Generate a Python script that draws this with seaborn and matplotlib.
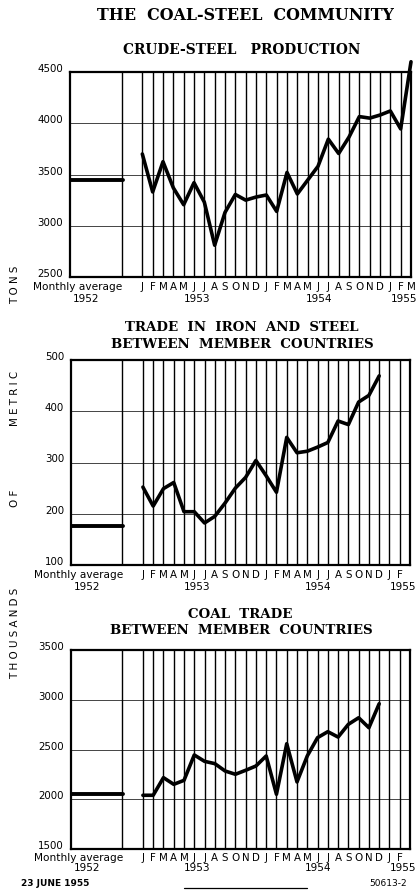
import numpy as np
import pandas as pd
import matplotlib
matplotlib.use("Agg")
import matplotlib.pyplot as plt
from matplotlib.lines import Line2D
import seaborn as sns

# ---------------- data ----------------
months_steel = ["J", "F", "M", "A", "M", "J", "J", "A", "S", "O", "N", "D",
                "J", "F", "M", "A", "M", "J", "J", "A", "S", "O", "N", "D",
                "J", "F", "M"]
months_trade = months_steel[:26]

years_labels = ["1953", "1954", "1955"]
years_pos = [5.3, 17.1, 25.3]

steel_values = [3700, 3330, 3625, 3370, 3205, 3420, 3230, 2810, 3130, 3305,
                3250, 3280, 3300, 3140, 3520, 3310, 3445, 3580, 3845, 3705,
                3865, 4065, 4050, 4080, 4120, 3945, 4600]
steel_avg_1952 = 3450

iron_values = [252, 215, 249, 261, 204, 204, 182, 195, 221, 250, 271, 304,
               274, 242, 349, 319, 322, 330, 339, 381, 374, 418, 431, 469]
iron_avg_1952 = 176

coal_values = [2040, 2040, 2217, 2150, 2190, 2445, 2381, 2358, 2284, 2251,
               2291, 2334, 2435, 2050, 2558, 2174, 2435, 2619, 2679, 2625,
               2753, 2819, 2719, 2960]
coal_avg_1952 = 2057

steel_ticks = [2500, 3000, 3500, 4000, 4500]
iron_ticks = [100, 200, 300, 400, 500]
coal_ticks = [1500, 2000, 2500, 3000, 3500]

# ---------------- style ----------------
sns.set_style("white")
plt.rcParams["font.family"] = ["DejaVu Sans"]
plt.rcParams["text.color"] = "black"
plt.rcParams["xtick.color"] = "black"
plt.rcParams["ytick.color"] = "black"
plt.rcParams["axes.labelcolor"] = "black"

W, H = 416, 890
fig = plt.figure(figsize=(W / 100, H / 100), dpi=100)


def axes_px(left, right, top, bottom):
    return fig.add_axes([left / W, 1 - bottom / H, (right - left) / W, (bottom - top) / H])


def draw_panel(ax, labels, values, avg, ticks, year_dy, month_dy):
    ax.set_xlim(-7, 26)
    ax.set_ylim(ticks[0], ticks[-1])
    ax.set_yticks(ticks)
    ax.set_yticklabels([str(t) for t in ticks], fontsize=7.4)
    for lab in ax.get_yticklabels():
        lab.set_verticalalignment("baseline")
    ax.set_xticks(range(len(labels)))
    ax.set_xticklabels(labels, fontsize=7.4)
    for lab in ax.get_xticklabels():
        lab.set_verticalalignment("center")
    ax.tick_params(axis="x", length=0, pad=month_dy * 0.72)
    ax.tick_params(axis="y", length=0, pad=5)
    ax.grid(False)
    ax.yaxis.grid(True, color="black", lw=0.6, alpha=0.85)
    ax.xaxis.grid(True, color="black", lw=1.0)
    ax.axvline(-2, color="black", lw=1.0)
    for s in ax.spines.values():
        s.set_color("black")
        s.set_linewidth(1.6)
    df = pd.DataFrame({"month": np.arange(len(values)), "value": values})
    sns.lineplot(data=df, x="month", y="value", ax=ax, color="black", lw=2.6,
                 clip_on=False)
    avg_df = pd.DataFrame({"x": [-7, -1.9], "y": [avg, avg]})
    sns.lineplot(data=avg_df, x="x", y="y", ax=ax, color="black", lw=2.8)
    ax.set_xlabel("")
    ax.set_ylabel("")
    # lower labels
    ax.annotate("Monthly average", xy=(-6.3, 0), xycoords=("data", "axes fraction"),
                xytext=(0, -month_dy * 0.72), textcoords="offset points",
                ha="center", va="center", fontsize=7.6, annotation_clip=False)
    ax.annotate("1952", xy=(-5.45, 0), xycoords=("data", "axes fraction"),
                xytext=(0, -year_dy * 0.72), textcoords="offset points",
                ha="center", va="center", fontsize=7.6, annotation_clip=False)
    for yl, xp in zip(years_labels, years_pos):
        ax.annotate(yl, xy=(xp, 0), xycoords=("data", "axes fraction"),
                    xytext=(0, -year_dy * 0.72), textcoords="offset points",
                    ha="center", va="center", fontsize=7.6, annotation_clip=False)


ax1 = axes_px(70, 411, 72, 277)
draw_panel(ax1, months_steel, steel_values, steel_avg_1952, steel_ticks, 22, 10)

ax2 = axes_px(71, 410, 360, 565)
draw_panel(ax2, months_trade, iron_values, iron_avg_1952, iron_ticks, 22, 10)

ax3 = axes_px(71, 410, 650, 849)
draw_panel(ax3, months_trade, coal_values, coal_avg_1952, coal_ticks, 19, 9)

# ---------------- titles ----------------
serif = "DejaVu Serif"
fig.text(245 / W, 1 - 15 / H, "THE  COAL-STEEL  COMMUNITY", ha="center", va="center",
         fontsize=11.4, family=serif, fontweight="bold")
fig.text(242 / W, 1 - 50 / H, "CRUDE-STEEL   PRODUCTION", ha="center", va="center",
         fontsize=9.9, family=serif, fontweight="bold")
fig.text(242 / W, 1 - 328 / H, "TRADE  IN  IRON  AND  STEEL", ha="center", va="center",
         fontsize=9.6, family=serif, fontweight="bold")
fig.text(242 / W, 1 - 344 / H, "BETWEEN  MEMBER  COUNTRIES", ha="center", va="center",
         fontsize=9.6, family=serif, fontweight="bold")
fig.text(240 / W, 1 - 615 / H, "COAL  TRADE", ha="center", va="center",
         fontsize=9.6, family=serif, fontweight="bold")
fig.text(241 / W, 1 - 631 / H, "BETWEEN  MEMBER  COUNTRIES", ha="center", va="center",
         fontsize=9.6, family=serif, fontweight="bold")

# vertical unit label
for word, yc in [("T O N S", 285), ("M E T R I C", 398), ("O F", 498),
                 ("T H O U S A N D S", 633)]:
    fig.text(15 / W, 1 - yc / H, word, rotation=90, ha="center", va="center",
             fontsize=7.4)

# footer
fig.text(21 / W, 1 - 883 / H, "23 JUNE 1955", ha="left", va="center",
         fontsize=6.5, fontweight="bold")
fig.text(407 / W, 1 - 883 / H, "50613-2", ha="right", va="center",
         fontsize=6.5)
fig.add_artist(Line2D([184 / W, 307 / W], [1 - 888 / H, 1 - 888 / H],
                      color="black", lw=0.9, transform=fig.transFigure))

fig.savefig("out.png", dpi=100)
